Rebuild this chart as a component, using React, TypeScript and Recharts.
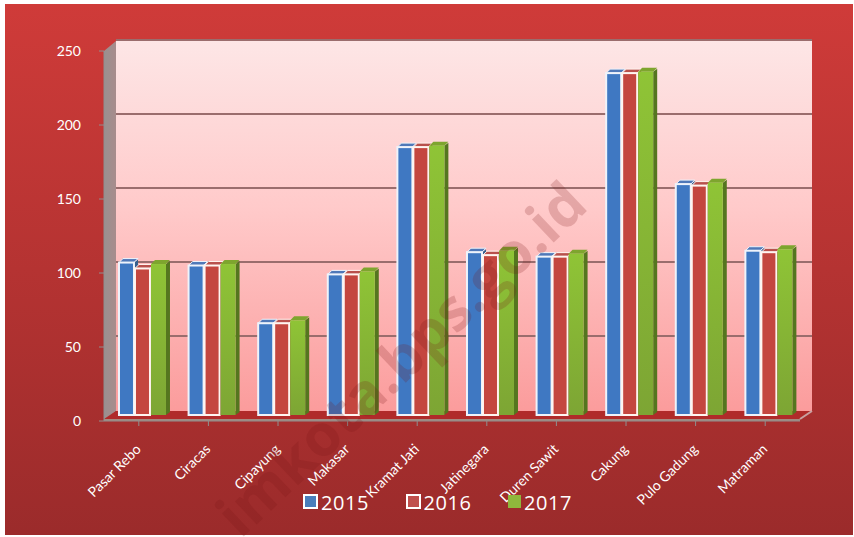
import { BarChart, Bar, XAxis, YAxis, Legend, usePlotArea } from "recharts";

const districts = ["Pasar Rebo", "Ciracas", "Cipayung", "Makasar", "Kramat Jati", "Jatinegara", "Duren Sawit", "Cakung", "Pulo Gadung", "Matraman"];
const values2015 = [103, 101, 62, 95, 181, 110, 107, 231, 156, 111];
const values2016 = [99, 101, 62, 95, 181, 108, 107, 231, 155, 110];
const values2017 = [102, 102, 64, 97, 182, 111, 109, 232, 157, 112];
const yTicks = [0, 50, 100, 150, 200, 250];
const yMax = 250;

const chartData = districts.map((name, i) => ({
  name,
  y2015: values2015[i],
  y2016: values2016[i],
  y2017: values2017[i],
}));

const seriesColors: Record<string, string> = { "2015": "#4a7ebb", "2016": "#c0504d", "2017": "#8fb73c" };

// how far the wall sits behind the axes, and the bars inside that depth
const WALL_DX = 12;
const WALL_DY = -10;
const BAR_DX = 3.5;
const BAR_DY = -6;

function Wall() {
  const plot = usePlotArea();
  if (!plot) return null;
  const { x, y, width, height } = plot;
  const bottom = y + height;
  const right = x + width;
  return (
    <g>
      <defs>
        <linearGradient id="wallFill" x1="0" y1="0" x2="0" y2="1">
          <stop offset="0" stopColor="#fde6e6" />
          <stop offset="0.45" stopColor="#ffcaca" />
          <stop offset="1" stopColor="#fb9c9c" />
        </linearGradient>
        <linearGradient id="sideFill" x1="0" y1="0" x2="1" y2="0">
          <stop offset="0" stopColor="#9a9090" />
          <stop offset="1" stopColor="#a88c8c" />
        </linearGradient>
        <linearGradient id="greenFill" x1="0" y1="0" x2="0" y2="1">
          <stop offset="0" stopColor="#8fc436" />
          <stop offset="1" stopColor="#7da534" />
        </linearGradient>
      </defs>
      <rect x={x + WALL_DX} y={y + WALL_DY} width={width} height={height} fill="url(#wallFill)" />
      {yTicks.slice(1).map((t) => {
        const gy = y + WALL_DY - 1 + height * (1 - t / yMax);
        return <line key={t} x1={x + WALL_DX} y1={gy} x2={right + WALL_DX} y2={gy} stroke="#9a6d6d" strokeWidth={2} />;
      })}
      <polygon
        points={`${x},${y} ${x + WALL_DX},${y + WALL_DY} ${x + WALL_DX},${bottom + WALL_DY} ${x},${bottom}`}
        fill="url(#sideFill)"
      />
      <polygon
        points={`${x},${bottom - 2} ${x + WALL_DX},${bottom + WALL_DY} ${right + WALL_DX},${bottom + WALL_DY} ${right},${bottom - 2}`}
        fill="#b02b2a"
      />
      <line x1={x} y1={bottom - 1} x2={right} y2={bottom - 1} stroke="#a58a80" strokeWidth={2} />
      <line x1={right} y1={bottom - 2} x2={right + WALL_DX} y2={bottom + WALL_DY} stroke="#c9a0a0" strokeWidth={2} />
    </g>
  );
}

function Bar3D(props: any) {
  const { x, y, width, height, front, top, side, outline } = props;
  const fx = x + BAR_DX;
  const fy = y + BAR_DY;
  const w = width - 1;
  const depth = 4;
  return (
    <g>
      <polygon
        points={`${fx + w},${fy} ${fx + w + depth},${fy - 3} ${fx + w + depth},${fy + height - 3} ${fx + w},${fy + height}`}
        fill={side}
      />
      <polygon
        points={`${fx},${fy} ${fx + depth},${fy - 4} ${fx + w + depth},${fy - 4} ${fx + w},${fy}`}
        fill={top}
        stroke={outline}
        strokeWidth={outline === "none" ? 0 : 1}
      />
      <rect x={fx} y={fy} width={w} height={height} fill={front} stroke={outline} strokeWidth={outline === "none" ? 0 : 2} />
    </g>
  );
}

function XTick({ x, y, payload }: any) {
  const tx = x + 3;
  const ty = y + 22;
  return (
    <text x={tx} y={ty} fill="#fff" fontFamily="Lato" fontSize={14} textAnchor="end" transform={`rotate(-45 ${tx} ${ty})`}>
      {payload.value}
    </text>
  );
}

function LegendRow() {
  const items = ["2015", "2016", "2017"];
  return (
    <div style={{ position: "relative", height: 24 }}>
      {items.map((label, i) => (
        <div key={label} style={{ position: "absolute", left: 303 + i * 102.5, top: 2, display: "flex", alignItems: "center" }}>
          <span
            style={{
              width: 11,
              height: 11,
              background: seriesColors[label],
              border: label === "2017" ? "1px solid #8fb73c" : "2px solid #fff",
              display: "inline-block",
            }}
          />
          <span style={{ color: "#fff", fontFamily: "Open Sans", fontSize: 20, marginLeft: 3, letterSpacing: 0.6, lineHeight: "24px", position: "relative", top: 2 }}>{label}</span>
        </div>
      ))}
    </div>
  );
}

export default function App() {
  return (
    <div style={{ position: "absolute", left: 0, top: 0, width: 854, height: 537, background: "#fff" }}>
      <div
        style={{
          position: "absolute",
          left: 5,
          top: 4,
          width: 848,
          height: 531,
          background: "linear-gradient(#cf3b39, #9b2b2b)",
        }}
      />
      <BarChart
        width={854}
        height={537}
        data={chartData}
        margin={{ top: 51, right: 54, bottom: 0, left: 0 }}
        barCategoryGap="16.5%"
        barGap={0}
        style={{ position: "absolute", left: 0, top: 0 }}
      >
        <Wall />
        <XAxis dataKey="name" interval={0} height={92} stroke="#8f8f8f" tickSize={5} tick={<XTick />} />
        <YAxis
          domain={[0, yMax]}
          ticks={yTicks}
          width={104}
          stroke="#8f8f8f"
          tickSize={5}
          tickMargin={18}
          tick={{ fill: "#fff", fontFamily: "Lato", fontSize: 14 }}
        />
        <Legend verticalAlign="bottom" height={24} content={<LegendRow />} wrapperStyle={{ left: 0, width: 854, bottom: 26 }} />
        <Bar dataKey="y2015" isAnimationActive={false} shape={(p: any) => <Bar3D {...p} front="#3f78c2" top="#4f78b8" side="#36608f" outline="#eef3fb" />} />
        <Bar dataKey="y2016" isAnimationActive={false} shape={(p: any) => <Bar3D {...p} front="#c4463f" top="#b9504c" side="#8f3230" outline="#fff4f0" />} />
        <Bar dataKey="y2017" isAnimationActive={false} shape={(p: any) => <Bar3D {...p} front="url(#greenFill)" top="#7ea52e" side="#55761f" outline="none" />} />
      </BarChart>
      <svg width={854} height={537} style={{ position: "absolute", left: 0, top: 0, pointerEvents: "none" }}>
        <text
          x={590}
          y={208}
          textAnchor="end"
          transform="rotate(-43.5 590 208)"
          fontFamily="Open Sans"
          fontWeight={700}
          fontSize={58}
          fill="#7a1616"
          fillOpacity={0.2}
        >
          imkota.bps.go.id
        </text>
      </svg>
    </div>
  );
}
